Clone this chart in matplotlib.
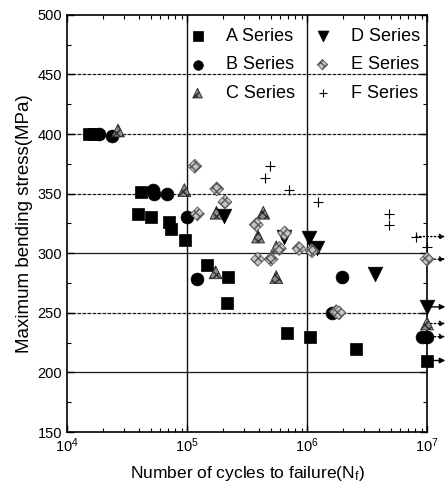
import matplotlib
matplotlib.use("Agg")
import matplotlib.pyplot as plt
from matplotlib.ticker import FixedLocator, LogLocator, NullFormatter

plt.rcParams['font.family'] = ['Liberation Sans', 'DejaVu Sans']
plt.rcParams['mathtext.fontset'] = 'custom'
plt.rcParams['mathtext.rm'] = 'Liberation Sans'
plt.rcParams['mathtext.it'] = 'Liberation Sans'

# ---- data (cycles, stress MPa); runout flags mark specimens that did not fail ----
a_n = [15200, 16800, 41000, 39300, 50100, 70800, 73000, 96000, 146000, 221000, 214000, 677000, 1060000, 2560000, 10000000]
a_s = [400, 400, 351, 333, 330, 326, 320, 311, 290, 280, 258, 233, 230, 220, 210]
a_run = [False] * 14 + [True]

b_n = [18500, 23700, 52000, 53000, 67800, 100000, 120000, 1950000, 1620000, 9000000, 10000000]
b_s = [400, 398, 353, 350, 350, 330, 278, 280, 250, 230, 230]
b_run = [False] * 9 + [False, True]

c_n = [26600, 95000, 176000, 173000, 432000, 391000, 554000, 554000, 10000000]
c_s = [403, 353, 334, 284, 334, 314, 305, 280, 241]
c_run = [False] * 8 + [True]

d_n = [204000, 647000, 1030000, 1200000, 3690000, 10000000]
d_s = [331, 314, 313, 304, 283, 255]
d_run = [False] * 5 + [True]

e_n = [116000, 122000, 177000, 207000, 378000, 388000, 501000, 588000, 650000, 857000, 1100000, 1750000, 1850000, 10000000]
e_s = [373, 333, 354, 343, 324, 295, 295, 304, 317, 304, 302, 251, 250, 295]
e_run = [False] * 13 + [True]

f_n = [447000, 492000, 712000, 1230000, 4850000, 4850000, 8080000, 10000000]
f_s = [363, 373, 353, 343, 333, 324, 314, 305]
f_run = [False] * 6 + [True, False]

labels = ['A Series', 'B Series', 'C Series', 'D Series', 'E Series', 'F Series']
y_ticks = [150, 200, 250, 300, 350, 400, 450, 500]

fig = plt.figure(figsize=(4.48, 4.96), dpi=100)
ax = fig.add_axes([0.1496, 0.129, 0.8036, 0.841])
ax.set_xscale('log')
ax.set_xlim(1e4, 1e7)
ax.set_ylim(150, 500)

# grid lines
for y in [200, 250, 300, 350, 400, 450]:
    ax.axhline(y, color='#1a1a1a', lw=0.9, ls=(0, (3, 1)) if y in (250, 350, 400, 450) else '-', zorder=1)
for x in [1e5, 1e6]:
    ax.axvline(x, color='#111111', lw=1.0, zorder=1)

styles = [
    dict(marker='s', s=80, c='black', edgecolors='black', linewidths=0.5),
    dict(marker='o', s=85, c='black', edgecolors='black', linewidths=0.5),
    dict(marker='^', s=85, facecolors='#8a8a8a', edgecolors='#2a2a2a', hatch='xxxx', linewidths=0.6),
    dict(marker='v', s=110, c='black', edgecolors='black', linewidths=0.5),
    dict(marker='D', s=50, facecolors='#c4c4c4', edgecolors='#5a5a5a', hatch='xxxx', linewidths=0.6),
    dict(marker='+', s=60, c='black', linewidths=0.8),
]
series = [(a_n, a_s, a_run), (b_n, b_s, b_run), (c_n, c_s, c_run),
          (d_n, d_s, d_run), (e_n, e_s, e_run), (f_n, f_s, f_run)]
arrow_ls = ['-', ':', ':', '-', ':', ':']

for (n, s, run), st, lab, als in zip(series, styles, labels, arrow_ls):
    ax.scatter(n, s, label=lab, zorder=3, clip_on=False, **st)
    for ni, si, ri in zip(n, s, run):
        if ri:
            ax.annotate('', xy=(1.42e7, si), xytext=(ni, si),
                        arrowprops=dict(arrowstyle='-|>', lw=1.0, color='black',
                                        linestyle=als, mutation_scale=8, shrinkA=0, shrinkB=0),
                        annotation_clip=False, zorder=2)

ax.yaxis.set_major_locator(FixedLocator(y_ticks))
ax.yaxis.set_minor_locator(FixedLocator([175, 225, 275, 325, 375, 425, 475]))
ax.xaxis.set_major_locator(LogLocator(base=10, numticks=10))
ax.xaxis.set_minor_locator(LogLocator(base=10, subs=range(2, 10), numticks=20))
ax.xaxis.set_minor_formatter(NullFormatter())
ax.tick_params(which='both', direction='in', top=True, right=True, labelsize=10.5)
ax.tick_params(which='major', length=5, width=1)
ax.tick_params(which='minor', length=3, width=0.8)
for sp in ax.spines.values():
    sp.set_linewidth(1.2)

ax.set_xlabel('Number of cycles to failure(N$_f$)', fontsize=12.5, labelpad=6)
ax.set_ylabel('Maximum bending stress(MPa)', fontsize=13.5, labelpad=3)

leg = ax.legend(ncol=2, loc='upper right', bbox_to_anchor=(1.012, 0.995), frameon=False,
                fontsize=13, handletextpad=0.6, columnspacing=0.5, labelspacing=0.64,
                borderaxespad=0.2, scatterpoints=1, markerscale=0.75, handlelength=2.0)

fig.savefig('out.png', dpi=100)
